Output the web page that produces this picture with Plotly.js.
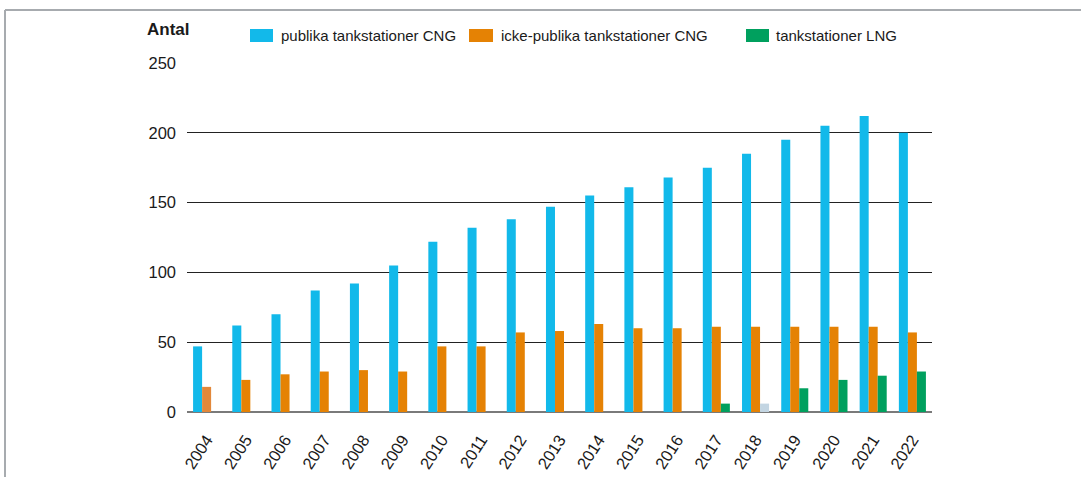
<!DOCTYPE html>
<html>
<head>
<meta charset="utf-8">
<script src="https://cdn.plot.ly/plotly-3.0.1.min.js"></script>
<style>
html,body{margin:0;padding:0;background:#fff;}
#chart{width:1081px;height:477px;}
</style>
</head>
<body>
<div id="chart"></div>
<script>
const years = ['2004','2005','2006','2007','2008','2009','2010','2011','2012','2013','2014','2015','2016','2017','2018','2019','2020','2021','2022'];
const publikaCNG = [47,62,70,87,92,105,122,132,138,147,155,161,168,175,185,195,205,212,200];
const ickePublikaCNG = [18,23,27,29,30,29,47,47,57,58,63,60,60,61,61,61,61,61,57];
const lng = [null,null,null,null,null,null,null,null,null,null,null,null,null,6,6,17,23,26,29];
const seriesNames = ['publika tankstationer CNG','icke-publika tankstationer CNG','tankstationer LNG'];

const BLUE = '#12B9EA', ORANGE = '#E58204', GREEN = '#00A05E', GREY = '#C3D5E2';

// layout geometry (pixels)
const W = 1081, H = 477;
const L = 187, R = 932, T = 63, B = 412;
const px = x => (x - L) / (R - L);
const py = y => (B - y) / (B - T);

const orangeColors = ickePublikaCNG.map((v, i) => i === 0 ? '#E2883A' : ORANGE);
const greenColors = lng.map((v, i) => years[i] === '2018' ? GREY : GREEN);

const traces = [
  {type:'bar', x:years, y:publikaCNG, name:seriesNames[0], marker:{color:BLUE}},
  {type:'bar', x:years, y:ickePublikaCNG, name:seriesNames[1], marker:{color:orangeColors}},
  {type:'bar', x:years, y:lng, name:seriesNames[2], marker:{color:greenColors}}
];

const FONT = 'Liberation Sans, Arial, sans-serif';
const TXT = '#1a1a1a';

const legendItems = [
  {sq:[250,273], tx:279, color:BLUE, text:seriesNames[0]},
  {sq:[469,493], tx:499, color:ORANGE, text:seriesNames[1]},
  {sq:[746,769], tx:774, color:GREEN, text:seriesNames[2]}
];

const shapes = [
  // frame
  {type:'line', xref:'paper', yref:'paper', x0:px(5), x1:px(W), y0:py(10), y1:py(10), line:{color:'#A7ABAF', width:2}},
  {type:'line', xref:'paper', yref:'paper', x0:px(5), x1:px(5), y0:py(10), y1:py(H), line:{color:'#A7ABAF', width:2}}
];
const annotations = [
  {xref:'paper', yref:'paper', x:px(145), y:py(30), xanchor:'left', yanchor:'middle', showarrow:false,
   text:'<b>Antal</b>', font:{family:FONT, size:17, color:TXT}}
];
legendItems.forEach(it => {
  shapes.push({type:'rect', xref:'paper', yref:'paper', x0:px(it.sq[0]), x1:px(it.sq[1]), y0:py(42), y1:py(29),
    fillcolor:it.color, line:{width:0}});
  annotations.push({xref:'paper', yref:'paper', x:px(it.tx), y:py(35.5), xanchor:'left', yanchor:'middle',
    showarrow:false, text:it.text, font:{family:FONT, size:15, color:TXT}});
});

const layout = {
  width:W, height:H,
  margin:{l:L, r:W-R, t:T, b:H-B, pad:0},
  paper_bgcolor:'#fff', plot_bgcolor:'#fff',
  barmode:'group', bargap:0.31, bargroupgap:0,
  showlegend:false,
  font:{family:FONT, color:TXT},
  xaxis:{type:'category', tickangle:-57, tickfont:{family:FONT, size:16.5, color:TXT},
    showgrid:false, showline:false, ticks:'', ticklabelstandoff:14, fixedrange:true},
  yaxis:{range:[0,250], tickvals:[0,50,100,150,200,250], tickfont:{family:FONT, size:16.5, color:TXT},
    showgrid:true, gridcolor:'#222', gridwidth:1, zeroline:true, zerolinecolor:'#7a7a7a', zerolinewidth:2,
    showline:false, ticks:'', ticklabelstandoff:10, fixedrange:true},
  shapes:shapes,
  annotations:annotations
};

Plotly.newPlot('chart', traces, layout, {displayModeBar:false, staticPlot:true});
</script>
</body>
</html>
